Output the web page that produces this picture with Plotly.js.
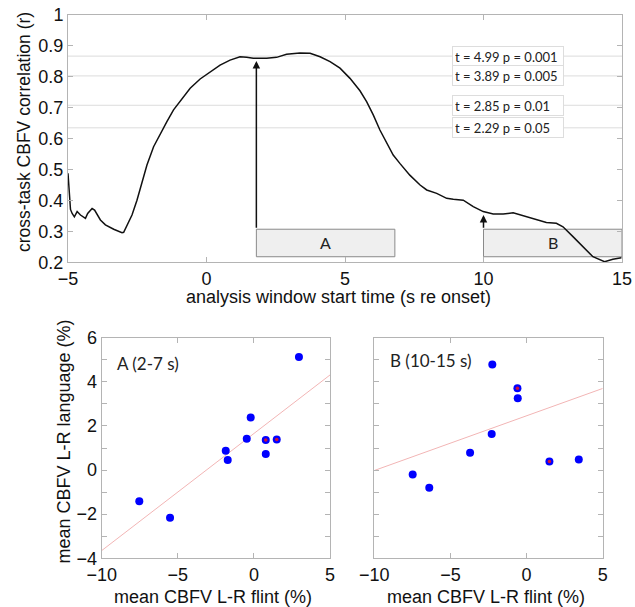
<!DOCTYPE html>
<html>
<head>
<meta charset="utf-8">
<script src="https://cdn.plot.ly/plotly-3.0.1.min.js"></script>
<style>html,body{margin:0;padding:0;background:#fff;}#chart{width:635px;height:607px;}</style>
</head>
<body>
<div id="chart"></div>
<script>
// ---- top panel: cross-task correlation vs analysis window start time ----
const windowStart = [-5.00,-4.95,-4.91,-4.85,-4.77,-4.67,-4.55,-4.37,-4.29,-4.13,-4.04,-3.83,-3.65,-3.35,-3.05,-2.99,-2.87,-2.69,-2.51,-2.33,-2.15,-1.91,-1.67,-1.43,-1.19,-0.89,-0.59,-0.23,0.13,0.49,0.85,1.21,1.45,1.69,2.17,2.53,2.89,3.37,3.74,4.10,4.46,4.82,5.18,5.54,5.78,6.02,6.26,6.50,6.74,6.98,7.34,7.71,7.95,8.31,8.67,8.91,9.27,9.63,9.99,10.35,10.71,11.07,11.43,11.91,12.27,12.63,12.87,13.23,13.59,13.95,14.37,14.67,14.98];
const correlation = [0.488,0.434,0.371,0.358,0.347,0.364,0.353,0.342,0.358,0.374,0.369,0.337,0.321,0.307,0.296,0.297,0.321,0.353,0.401,0.455,0.515,0.574,0.617,0.655,0.693,0.730,0.763,0.793,0.817,0.838,0.854,0.865,0.863,0.860,0.860,0.863,0.873,0.877,0.876,0.865,0.849,0.828,0.795,0.755,0.720,0.677,0.628,0.585,0.547,0.520,0.482,0.450,0.434,0.423,0.407,0.404,0.401,0.380,0.364,0.356,0.356,0.360,0.350,0.337,0.329,0.326,0.315,0.283,0.250,0.218,0.202,0.210,0.215];
const thresholdR = [0.867, 0.803, 0.708, 0.635];
const thresholdLabels = ["t = 4.99 p = 0.001", "t = 3.89 p = 0.005", "t = 2.85 p = 0.01", "t = 2.29 p = 0.05"];
const windowNames = ["A", "B"];
const windowStartX = [1.8, 10];
const windowEndX = [6.8, 15];
const windowBoxY = [0.218, 0.307];
const arrowTipR = [0.851, 0.353];
const topXTicks = [-5, 0, 5, 10, 15];
const topYTicks = [0.2, 0.3, 0.4, 0.5, 0.6, 0.7, 0.8, 0.9, 1];

// ---- bottom panels: scatter of flint vs language ----
const flintA = [2.96, -0.21, -0.47, -1.85, -1.72, 0.78, -7.53, -5.51];
const languageA = [5.12, 2.38, 1.42, 0.88, 0.46, 0.73, -1.41, -2.16];
const flintA_marked = [0.78, 1.50];
const languageA_marked = [1.36, 1.39];
const fitA_x = [-10, 5];
const fitA_y = [-3.65, 4.31];

const flintB = [-2.25, -0.58, -2.29, -3.71, 3.43, -7.48, -6.39];
const languageB = [4.79, 3.25, 1.64, 0.79, 0.48, -0.20, -0.80];
const flintB_marked = [-0.60, 1.50];
const languageB_marked = [3.71, 0.39];
const fitB_x = [-10, 5];
const fitB_y = [-0.02, 3.70];

const scatterXTicks = [-10, -5, 0, 5];
const scatterYTicks = [-4, -2, 0, 2, 4, 6];

const W = 635, H = 607;
const px = v => v / W;
const py = v => 1 - v / H;

const axisGray = '#b4b4b4';
const tickFont = {family: 'Liberation Sans, Arial, sans-serif', size: 18, color: '#111'};
const titleFont = {family: 'Liberation Sans, Arial, sans-serif', size: 18, color: '#111'};
const labelFont = {family: 'Lato, Open Sans, sans-serif', size: 13, color: '#222'};

const traces = [];
// threshold lines
thresholdR.forEach(r => traces.push({
  x: [topXTicks[0], topXTicks[topXTicks.length - 1]], y: [r, r], mode: 'lines',
  line: {color: '#dcdcdc', width: 1}, xaxis: 'x', yaxis: 'y', hoverinfo: 'skip', showlegend: false
}));
traces.push({x: windowStart, y: correlation, mode: 'lines', line: {color: '#111', width: 1.5}, xaxis: 'x', yaxis: 'y', showlegend: false});

function scatterSet(fx, fy, x, y, mx, my, xa, ya) {
  traces.push({x: fx, y: fy, mode: 'lines', line: {color: '#f2b5b5', width: 1}, xaxis: xa, yaxis: ya, showlegend: false});
  traces.push({x: x, y: y, mode: 'markers', marker: {color: '#0000ff', size: 8}, xaxis: xa, yaxis: ya, showlegend: false});
  traces.push({x: mx, y: my, mode: 'markers', marker: {color: '#0000ff', size: 8}, xaxis: xa, yaxis: ya, showlegend: false});
  traces.push({x: mx, y: my, mode: 'markers', marker: {color: '#d0103a', size: 3.5}, xaxis: xa, yaxis: ya, showlegend: false});
}
scatterSet(fitA_x, fitA_y, flintA, languageA, flintA_marked, languageA_marked, 'x2', 'y2');
scatterSet(fitB_x, fitB_y, flintB, languageB, flintB_marked, languageB_marked, 'x3', 'y3');

function axisBase(extra) {
  return Object.assign({
    showgrid: false, zeroline: false, showline: true, linecolor: axisGray, linewidth: 1,
    mirror: 'ticks', ticks: 'inside', ticklen: 5, tickcolor: axisGray, tickfont: tickFont,
    fixedrange: true
  }, extra);
}

const shapes = [];
windowNames.forEach((n, i) => shapes.push({
  type: 'rect', xref: 'x', yref: 'y', x0: windowStartX[i], x1: windowEndX[i], y0: windowBoxY[0], y1: windowBoxY[1],
  fillcolor: '#efefef', line: {color: '#8a8a8a', width: 1}, layer: 'below'
}));

const annotations = [];
thresholdLabels.forEach((t, i) => annotations.push({
  xref: 'x', yref: 'y', x: 8.88, y: thresholdR[i], xanchor: 'left', yanchor: 'middle',
  text: t, showarrow: false, align: 'left', width: 106, height: 15,
  bgcolor: '#ffffff', bordercolor: '#dddddd', borderwidth: 1, borderpad: 2, font: labelFont
}));
windowNames.forEach((n, i) => {
  annotations.push({xref: 'x', yref: 'y', x: (windowStartX[i] + windowEndX[i]) / 2, y: (windowBoxY[0] + windowBoxY[1]) / 2,
    text: n, showarrow: false, font: {family: 'Lato, sans-serif', size: 16, color: '#222'}});
  annotations.push({xref: 'x', yref: 'y', axref: 'x', ayref: 'y', x: windowStartX[i], y: arrowTipR[i], ax: windowStartX[i], ay: windowBoxY[1],
    text: '', showarrow: true, arrowhead: 2, arrowsize: 1, arrowwidth: 1.5, arrowcolor: '#111', standoff: 0, startstandoff: 0});
});
// axis titles
annotations.push({xref: 'paper', yref: 'paper', x: px(24), y: py(132), text: 'cross-task CBFV correlation (r)', textangle: -90, showarrow: false, font: Object.assign({}, titleFont, {size: 17.5}), xanchor: 'center', yanchor: 'middle'});
annotations.push({xref: 'paper', yref: 'paper', x: px(338), y: py(297.5), text: 'analysis window start time (s re onset)', showarrow: false, font: titleFont, xanchor: 'center', yanchor: 'middle'});
annotations.push({xref: 'paper', yref: 'paper', x: px(63.5), y: py(442), text: 'mean CBFV L-R language (%)', textangle: -90, showarrow: false, font: titleFont, xanchor: 'center', yanchor: 'middle'});
annotations.push({xref: 'paper', yref: 'paper', x: px(213), y: py(596.5), text: 'mean CBFV L-R flint (%)', showarrow: false, font: titleFont, xanchor: 'center', yanchor: 'middle'});
annotations.push({xref: 'paper', yref: 'paper', x: px(486), y: py(596.5), text: 'mean CBFV L-R flint (%)', showarrow: false, font: titleFont, xanchor: 'center', yanchor: 'middle'});
// panel labels
annotations.push({xref: 'x2', yref: 'y2', x: -9.13, y: 4.81, text: 'A (2-7 s)', showarrow: false, xanchor: 'left', yanchor: 'middle', font: {family: 'Lato, sans-serif', size: 17, color: '#222'}});
annotations.push({xref: 'x3', yref: 'y3', x: -9.13, y: 4.95, text: 'B (10-15 s)', showarrow: false, xanchor: 'left', yanchor: 'middle', font: {family: 'Lato, sans-serif', size: 17, color: '#222'}});

const layout = {
  width: W, height: H, margin: {l: 0, r: 0, t: 0, b: 0}, paper_bgcolor: '#fff', plot_bgcolor: '#fff',
  showlegend: false,
  xaxis: axisBase({domain: [px(68), px(622)], range: [-5, 15], tickvals: topXTicks, anchor: 'y'}),
  yaxis: axisBase({domain: [py(262.3), py(15)], range: [0.2, 1], tickvals: topYTicks, ticktext: topYTicks.map(String), anchor: 'x'}),
  xaxis2: axisBase({domain: [px(101.7), px(330)], range: [-10, 5], tickvals: scatterXTicks, anchor: 'y2'}),
  yaxis2: axisBase({domain: [py(558.3), py(337.7)], range: [-4, 6], tickvals: scatterYTicks, anchor: 'x2',
    minor: {dtick: 1, tick0: 0, ticks: 'inside', ticklen: 5, tickcolor: axisGray}}),
  xaxis3: axisBase({domain: [px(374.3), px(602.7)], range: [-10, 5], tickvals: scatterXTicks, anchor: 'y3'}),
  yaxis3: axisBase({domain: [py(558.3), py(337.7)], range: [-4, 6], tickvals: scatterYTicks, showticklabels: false, anchor: 'x3',
    minor: {dtick: 1, tick0: 0, ticks: 'inside', ticklen: 5, tickcolor: axisGray}}),
  shapes: shapes,
  annotations: annotations
};

Plotly.newPlot('chart', traces, layout, {displayModeBar: false, staticPlot: true});
</script>
</body>
</html>
